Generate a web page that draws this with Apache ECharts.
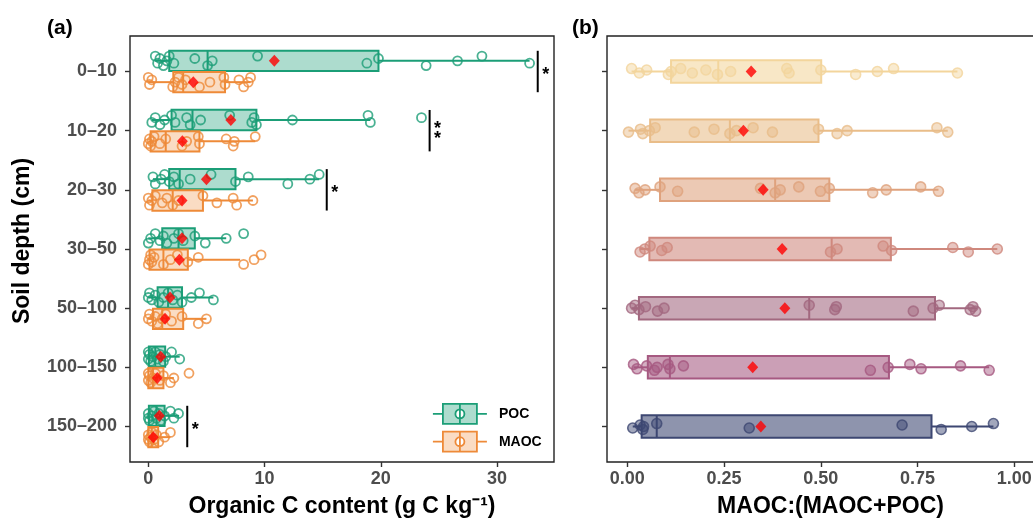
<!DOCTYPE html>
<html><head><meta charset="utf-8">
<script src="https://cdn.jsdelivr.net/npm/echarts@6/dist/echarts.min.js"></script>
<style>html,body{margin:0;padding:0;background:#fff}#c{width:1033px;height:524px}</style>
</head><body><div id="c"></div>
<script>
const depths = ['0–10','10–20','20–30','30–50','50–100','100–150','150–200'];
const xTicksA = [0, 10, 20, 30];
const xTicksB = [0, 0.25, 0.5, 0.75, 1];
const rowTicks = [1, 2, 3, 4, 5, 6, 7];

// box stats: [low whisker, Q1, median, Q3, high whisker]
const pocBox = [
  [0.6, 1.8, 5.1, 19.8, 32.8],
  [0.3, 2.0, 3.8, 9.3, 19.1],
  [0.4, 1.8, 2.7, 7.5, 14.7],
  [0.0, 1.2, 2.6, 4.0, 6.7],
  [0.0, 0.8, 1.7, 2.9, 5.6],
  [0.0, 0.05, 0.6, 1.45, 2.7],
  [0.0, 0.05, 0.7, 1.4, 2.65]
];
const maocBox = [
  [0.0, 2.15, 3.0, 6.6, 8.8],
  [0.0, 0.2, 1.5, 4.4, 9.2],
  [0.0, 0.35, 2.1, 4.7, 9.0],
  [0.0, 0.1, 1.3, 3.4, 7.9],
  [0.0, 0.4, 1.2, 3.0, 5.0],
  [0.0, 0.0, 0.4, 1.3, 2.2],
  [0.0, 0.0, 0.3, 0.85, 1.9]
];
const pocMean = [10.84, 7.1, 5.0, 2.9, 1.87, 1.07, 0.95];
const maocMean = [3.87, 2.93, 2.9, 2.67, 1.44, 0.77, 0.43];
const pocPts = [
  [0.6, 0.8, 1.0, 1.3, 1.6, 1.8, 2.2, 4.0, 5.1, 5.5, 9.4, 18.8, 19.8, 23.9, 26.6, 28.7, 32.8],
  [0.3, 0.6, 1.0, 1.4, 2.0, 2.3, 3.3, 3.6, 4.5, 7.0, 8.9, 9.1, 9.3, 12.4, 18.9, 19.1, 23.5],
  [0.4, 0.6, 1.1, 1.4, 1.8, 2.2, 2.6, 3.6, 5.4, 7.5, 8.6, 12.0, 13.9, 14.7],
  [0.0, 0.2, 0.6, 1.0, 1.3, 1.6, 2.2, 2.6, 3.0, 4.0, 4.9, 6.7, 8.2],
  [0.0, 0.1, 0.3, 0.6, 0.9, 1.3, 1.7, 2.1, 2.5, 2.9, 3.7, 4.4, 5.6],
  [0.0, 0.0, 0.1, 0.2, 0.4, 0.6, 0.8, 1.0, 1.3, 1.5, 2.0, 2.7],
  [0.0, 0.0, 0.1, 0.3, 0.5, 0.7, 0.9, 1.1, 1.4, 1.9, 2.2, 2.6]
];
const maocPts = [
  [0.0, 0.1, 0.3, 2.1, 2.3, 2.6, 2.9, 3.2, 4.4, 5.3, 6.5, 6.6, 7.8, 8.2, 8.6, 8.8],
  [0.0, 0.1, 0.2, 0.3, 0.5, 1.0, 1.5, 2.9, 3.3, 4.3, 4.4, 6.7, 7.3, 7.4, 9.2],
  [0.0, 0.1, 0.3, 0.6, 1.2, 1.6, 2.1, 2.6, 4.7, 5.9, 7.3, 7.6, 9.0],
  [0.0, 0.1, 0.2, 0.3, 0.5, 1.3, 1.9, 2.5, 3.4, 4.3, 8.2, 9.1, 9.7],
  [0.0, 0.1, 0.3, 0.6, 0.8, 1.2, 1.5, 2.0, 2.9, 4.3, 5.0],
  [0.0, 0.0, 0.1, 0.2, 0.4, 0.6, 1.0, 1.3, 1.9, 2.2, 3.5],
  [0.0, 0.0, 0.1, 0.2, 0.3, 0.5, 0.7, 0.9, 1.4, 1.9]
];
const sigRows = [1, 2, 3, 7];
const sigX = [33.5, 24.2, 15.35, 3.35];
const sigLabel = ['*', '**', '*', '*'];

const ratioBox = [
  [0.011, 0.113, 0.235, 0.501, 0.853],
  [0.003, 0.059, 0.265, 0.494, 0.828],
  [0.020, 0.0845, 0.382, 0.522, 0.804],
  [0.033, 0.057, 0.528, 0.681, 0.956],
  [0.011, 0.030, 0.470, 0.795, 0.904],
  [0.016, 0.053, 0.110, 0.676, 0.935],
  [0.014, 0.037, 0.076, 0.786, 0.946]
];
const ratioMean = [0.32, 0.30, 0.351, 0.40, 0.407, 0.324, 0.345];
const ratioPts = [
  [0.011, 0.031, 0.05, 0.106, 0.113, 0.138, 0.168, 0.203, 0.233, 0.267, 0.412, 0.418, 0.5, 0.59, 0.646, 0.688, 0.853],
  [0.003, 0.034, 0.04, 0.057, 0.072, 0.173, 0.224, 0.265, 0.282, 0.325, 0.375, 0.494, 0.542, 0.568, 0.80, 0.828],
  [0.02, 0.03, 0.046, 0.0845, 0.13, 0.344, 0.382, 0.395, 0.443, 0.499, 0.522, 0.634, 0.669, 0.758, 0.804],
  [0.033, 0.045, 0.059, 0.089, 0.103, 0.525, 0.542, 0.661, 0.683, 0.841, 0.881, 0.956],
  [0.011, 0.02, 0.03, 0.047, 0.078, 0.095, 0.47, 0.536, 0.54, 0.739, 0.79, 0.806, 0.886, 0.893, 0.90],
  [0.016, 0.025, 0.05, 0.07, 0.077, 0.105, 0.11, 0.145, 0.628, 0.674, 0.73, 0.759, 0.861, 0.935],
  [0.014, 0.033, 0.04, 0.042, 0.076, 0.315, 0.71, 0.811, 0.89, 0.946]
];

const POC_C = '#1B9E77', POC_F = 'rgba(27,158,119,0.36)';
const MAOC_C = '#EE8A38', MAOC_F = 'rgba(238,138,56,0.30)';
const ratioColors = ['#F3D59C', '#E9BD89', '#DFA27D', '#CF887D', '#A2687F', '#A65981', '#3D4772'];
function rgba(hex, a) {
  const n = parseInt(hex.slice(1), 16);
  return 'rgba(' + (n >> 16) + ',' + ((n >> 8) & 255) + ',' + (n & 255) + ',' + a + ')';
}

const FONT = 'Liberation Sans, Arial, sans-serif';
const DODGE = 0.18, HALF_A = 0.172, HALF_B = 0.19;
function jit(k, s) { return (((k * 3) % 5) - 2) * s; }

function boxRender(offset, halfH, strokeOf, fillOf, lw) {
  return function (params, api) {
    const row = api.value(0);
    const y = row + offset;
    const pL = api.coord([api.value(1), y]);
    const p1 = api.coord([api.value(2), y]);
    const pM = api.coord([api.value(3), y]);
    const p3 = api.coord([api.value(4), y]);
    const pH = api.coord([api.value(5), y]);
    const h = Math.abs(api.size([0, halfH])[1]);
    const stroke = strokeOf(row - 1), fill = fillOf(row - 1);
    const ls = { stroke: stroke, lineWidth: lw };
    return { type: 'group', children: [
      { type: 'line', shape: { x1: pL[0], y1: pL[1], x2: p1[0], y2: p1[1] }, style: ls },
      { type: 'line', shape: { x1: p3[0], y1: p3[1], x2: pH[0], y2: pH[1] }, style: ls },
      { type: 'rect', shape: { x: p1[0], y: p1[1] - h, width: p3[0] - p1[0], height: 2 * h }, style: { fill: fill, stroke: stroke, lineWidth: lw } },
      { type: 'line', shape: { x1: pM[0], y1: pM[1] - h, x2: pM[0], y2: pM[1] + h }, style: ls }
    ] };
  };
}
function boxData(stats) { return stats.map((b, i) => [i + 1].concat(b)); }
function ptsData(pts, offset, s) {
  const out = [];
  pts.forEach((arr, i) => arr.forEach((v, k) => out.push([v, i + 1 + offset + jit(k + i, s)])));
  return out;
}

const axisTickStyle = { lineStyle: { color: '#333', width: 1.4 }, length: 5 };
const tickLabel = { color: '#4D4D4D', fontWeight: 'bold', fontSize: 18, fontFamily: FONT };
const noLine = { show: false, onZero: false };

const legendIcon = 'path://M0,11L10,11M10,1L44,1L44,21L10,21ZM27,1L27,21M44,11L54,11M27,6.5A4.5,4.5,0,1,0,27.01,6.5Z';

const option = {
  animation: false,
  backgroundColor: '#fff',
  title: [
    { text: '(a)', left: 42, top: 13, textStyle: { fontSize: 21, fontWeight: 'bold', color: '#000', fontFamily: FONT } },
    { text: '(b)', left: 567, top: 13, textStyle: { fontSize: 21, fontWeight: 'bold', color: '#000', fontFamily: FONT } }
  ],
  legend: {
    orient: 'vertical', left: 432, top: 403, itemWidth: 54, itemHeight: 22, itemGap: 6, padding: 0,
    selectedMode: false,
    textStyle: { fontSize: 14, fontWeight: 'bold', color: '#000', fontFamily: FONT, padding: [0, 0, 0, 7] },
    data: [
      { name: 'POC', icon: legendIcon, itemStyle: { color: POC_F, borderColor: POC_C, borderWidth: 1.8 } },
      { name: 'MAOC', icon: legendIcon, itemStyle: { color: MAOC_F, borderColor: MAOC_C, borderWidth: 1.8 } }
    ]
  },
  grid: [
    { left: 130, top: 36, width: 424, height: 426, show: true, borderColor: '#222', borderWidth: 1.4, backgroundColor: 'transparent', outerBoundsMode: 'none', containLabel: false },
    { left: 607, top: 36, width: 447, height: 426, show: true, borderColor: '#222', borderWidth: 1.4, backgroundColor: 'transparent', outerBoundsMode: 'none', containLabel: false }
  ],
  xAxis: [
    { gridIndex: 0, type: 'value', min: -1.575, max: 34.9, position: 'bottom',
      axisLine: noLine, splitLine: { show: false },
      axisTick: Object.assign({ customValues: xTicksA }, axisTickStyle),
      axisLabel: Object.assign({ customValues: xTicksA, margin: 8 }, tickLabel),
      name: 'Organic C content (g C kg⁻¹)', nameLocation: 'middle', nameGap: 33,
      nameTextStyle: { fontSize: 23, fontWeight: 'bold', color: '#000', fontFamily: FONT } },
    { gridIndex: 1, type: 'value', min: -0.0525, max: 1.1025, position: 'bottom',
      axisLine: noLine, splitLine: { show: false },
      axisTick: Object.assign({ customValues: xTicksB }, axisTickStyle),
      axisLabel: Object.assign({ customValues: xTicksB, margin: 8, formatter: v => v.toFixed(2) }, tickLabel),
      name: 'MAOC:(MAOC+POC)', nameLocation: 'middle', nameGap: 33,
      nameTextStyle: { fontSize: 23, fontWeight: 'bold', color: '#000', fontFamily: FONT } }
  ],
  yAxis: [
    { gridIndex: 0, type: 'value', inverse: true, min: 0.4, max: 7.6, position: 'left',
      axisLine: noLine, splitLine: { show: false },
      axisTick: Object.assign({ customValues: rowTicks }, axisTickStyle),
      axisLabel: Object.assign({ customValues: rowTicks, margin: 13, formatter: v => depths[Math.round(v) - 1] }, tickLabel),
      name: 'Soil depth (cm)', nameLocation: 'middle', nameGap: 96, nameRotate: 90,
      nameTextStyle: { fontSize: 23, fontWeight: 'bold', color: '#000', fontFamily: FONT, padding: [0, 0, 0, 16] } },
    { gridIndex: 1, type: 'value', inverse: true, min: 0.4, max: 7.6, position: 'left',
      axisLine: noLine, splitLine: { show: false },
      axisTick: Object.assign({ customValues: rowTicks }, axisTickStyle),
      axisLabel: { show: false } }
  ],
  series: [
    { name: 'POC', type: 'custom', xAxisIndex: 0, yAxisIndex: 0, z: 2,
      itemStyle: { color: POC_F, borderColor: POC_C },
      renderItem: boxRender(-DODGE, HALF_A, () => POC_C, () => POC_F, 2),
      encode: { x: [1, 2, 3, 4, 5], y: 0 }, data: boxData(pocBox) },
    { name: 'MAOC', type: 'custom', xAxisIndex: 0, yAxisIndex: 0, z: 2,
      itemStyle: { color: MAOC_F, borderColor: MAOC_C },
      renderItem: boxRender(DODGE, HALF_A, () => MAOC_C, () => MAOC_F, 2),
      encode: { x: [1, 2, 3, 4, 5], y: 0 }, data: boxData(maocBox) },
    { name: 'POC points', type: 'scatter', xAxisIndex: 0, yAxisIndex: 0, z: 3,
      symbol: 'circle', symbolSize: 9,
      itemStyle: { color: 'rgba(255,255,255,0)', borderColor: POC_C, borderWidth: 1.8 },
      data: ptsData(pocPts, -DODGE, 0.04) },
    { name: 'MAOC points', type: 'scatter', xAxisIndex: 0, yAxisIndex: 0, z: 3,
      symbol: 'circle', symbolSize: 9,
      itemStyle: { color: 'rgba(255,255,255,0)', borderColor: MAOC_C, borderWidth: 1.8 },
      data: ptsData(maocPts, DODGE, 0.04) },
    { name: 'POC mean', type: 'scatter', xAxisIndex: 0, yAxisIndex: 0, z: 4,
      symbol: 'diamond', symbolSize: [11, 12], itemStyle: { color: '#FF0000' },
      data: pocMean.map((m, i) => [m, i + 1 - DODGE]) },
    { name: 'MAOC mean', type: 'scatter', xAxisIndex: 0, yAxisIndex: 0, z: 4,
      symbol: 'diamond', symbolSize: [11, 12], itemStyle: { color: '#FF0000' },
      data: maocMean.map((m, i) => [m, i + 1 + DODGE]) },
    { name: 'sig', type: 'custom', xAxisIndex: 0, yAxisIndex: 0, z: 5,
      encode: { x: 0, y: 1 },
      data: sigRows.map((r, i) => [sigX[i], r]),
      renderItem: function (params, api) {
        const x = api.value(0), r = api.value(1);
        const a = api.coord([x, r - 0.35]), b = api.coord([x, r + 0.35]);
        const lbl = sigLabel[params.dataIndex];
        const ym = (a[1] + b[1]) / 2;
        const fs = 18;
        const n = lbl.length;
        const kids = [{ type: 'line', shape: { x1: a[0], y1: a[1], x2: b[0], y2: b[1] }, style: { stroke: '#000', lineWidth: 2 } }];
        for (let j = 0; j < n; j++) {
          const yc = ym + (j - (n - 1) / 2) * 10;
          kids.push({ type: 'text', x: a[0] + 8, y: yc - 0.3 * fs,
            style: { text: '*', fill: '#000', font: 'bold ' + fs + 'px ' + FONT, align: 'center', verticalAlign: 'top' } });
        }
        return { type: 'group', children: kids };
      } },
    { name: 'Ratio', type: 'custom', xAxisIndex: 1, yAxisIndex: 1, z: 2,
      renderItem: boxRender(0, HALF_B, i => ratioColors[i], i => rgba(ratioColors[i], 0.58), 2),
      encode: { x: [1, 2, 3, 4, 5], y: 0 }, data: boxData(ratioBox) },
    { name: 'Ratio points', type: 'scatter', xAxisIndex: 1, yAxisIndex: 1, z: 3,
      symbol: 'circle', symbolSize: 10,
      data: (function () {
        const out = [];
        ratioPts.forEach((arr, i) => arr.forEach((v, k) => out.push({
          value: [v, i + 1 + jit(k + i, 0.025)],
          itemStyle: { color: rgba(ratioColors[i], 0.6), borderColor: ratioColors[i], borderWidth: 1.6 }
        })));
        return out;
      })() },
    { name: 'Ratio mean', type: 'scatter', xAxisIndex: 1, yAxisIndex: 1, z: 4,
      symbol: 'diamond', symbolSize: [11, 12], itemStyle: { color: '#FF0000' },
      data: ratioMean.map((m, i) => [m, i + 1]) }
  ]
};
const chart = echarts.init(document.getElementById('c'), null, { renderer: 'canvas' });
chart.setOption(option);
</script>
</body></html>
